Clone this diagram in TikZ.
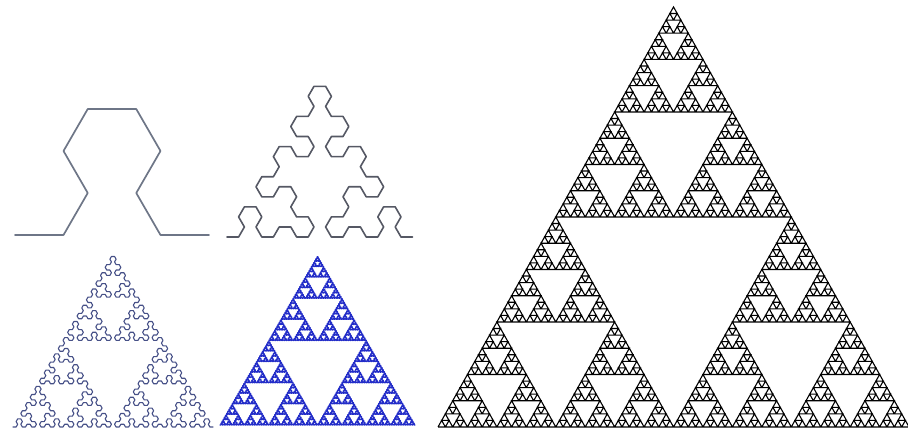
\documentclass[tikz,border=0pt]{standalone}
\usetikzlibrary{lindenmayersystems}

\definecolor{lightslate}{RGB}{110,118,135}
\definecolor{darkslate}{RGB}{85,88,100}
\definecolor{inkblue}{RGB}{70,80,135}
\definecolor{fillblue}{RGB}{35,45,200}

% arrowhead curve: both letters draw a step
\pgfdeclarelindenmayersystem{arrowhead}{
  \symbol{A}{\pgflsystemdrawforward}
  \symbol{B}{\pgflsystemdrawforward}
  \rule{A -> B-A-B}
  \rule{B -> A+B+A}}
% gasket drawn as one path
\pgfdeclarelindenmayersystem{gasket}{
  \symbol{X}{\pgflsystemdrawforward}
  \symbol{Y}{\pgflsystemdrawforward}
  \rule{X -> X-Y+X+Y-X}
  \rule{Y -> YY}}

\tikzset{curve/.style={line join=round,line cap=round}}

\begin{document}
\begin{tikzpicture}[x=1pt,y=1pt]
\useasboundingbox (0,0) rectangle (908,432);
% left column, orders 2,4 (top) and 6,8 (bottom)
\begin{scope}[shift={(15,197)}]
\draw[curve,line width=1.7pt,draw=lightslate]
  [l-system={arrowhead,axiom=A,order=2,step=48.5pt,angle=60}] lindenmayer system;
\end{scope}
\begin{scope}[shift={(227,195)}]
\draw[curve,line width=1.6pt,draw=darkslate]
  [l-system={arrowhead,axiom=A,order=4,step=11.6pt,angle=60}] lindenmayer system;
\end{scope}
\begin{scope}[shift={(13,5)}]
\draw[curve,line width=1.1pt,draw=inkblue]
  [l-system={arrowhead,axiom=A,order=6,step=3.125pt,angle=60}] lindenmayer system;
\end{scope}
\begin{scope}[shift={(220,7)}]
\draw[curve,line width=1.1pt,draw=fillblue]
  [l-system={arrowhead,axiom=A,order=8,step=.762pt,angle=60}] lindenmayer system;
\end{scope}
% right: the big triangle
\begin{scope}[shift={(438,5)},yscale=1.03]
\draw[line width=1.1pt,line join=miter]
  [l-system={gasket,axiom=X-Y-Y,order=6,step=7.36pt,angle=-120}] lindenmayer system;
\end{scope}
\end{tikzpicture}
\end{document}
